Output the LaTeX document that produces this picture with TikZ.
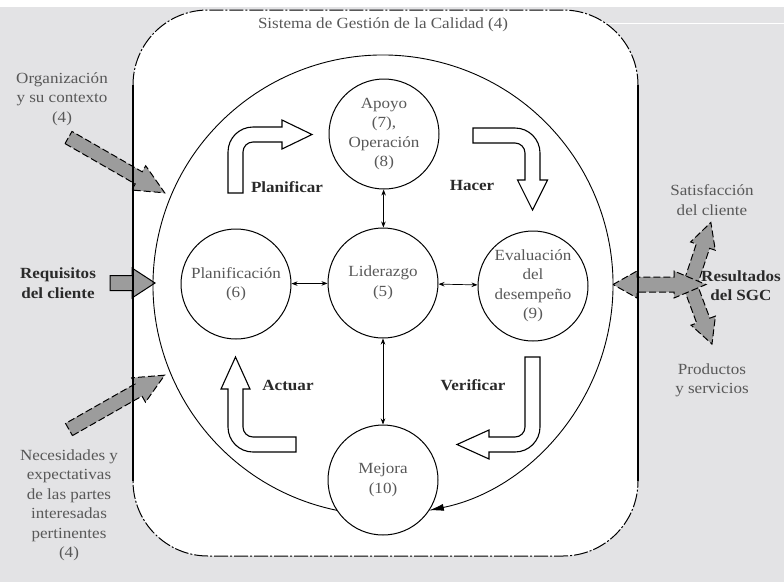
\documentclass[tikz,border=0pt]{standalone}
\usepackage{fontspec}
\setmainfont[FakeStretch=1.1]{Liberation Serif}
\usetikzlibrary{arrows.meta,calc}

\definecolor{pagegray}{HTML}{E3E3E5}
\definecolor{arrowgray}{HTML}{9C9C9C}
\definecolor{softtext}{HTML}{585858}
\definecolor{darktext}{HTML}{2A2A2A}

\newcommand{\labelfont}{\fontsize{15.5}{19.5}\selectfont}

% straight block arrow: style, tail point, angle, length, shaft half-width, head half-width, head length
\newcommand{\blockarrow}[7]{%
  \draw[#1,shift={#2},rotate=#3]
    (0,-#5) -- (#4-#7,-#5) -- (#4-#7,-#6) -- (#4,0) -- (#4-#7,#6) -- (#4-#7,#5) -- (0,#5) -- cycle;}

\tikzset{
  lbl/.style={font=\labelfont, text=softtext, align=center, inner sep=0pt},
  boldlbl/.style={font=\labelfont\bfseries, text=darktext, align=center, inner sep=0pt},
  stage/.style={circle, draw, line width=1pt, fill=white, minimum size=110pt,
    inner sep=0pt, align=center, font=\labelfont, text=softtext},
  link/.style={{Stealth[length=6pt,width=4.5pt]}-{Stealth[length=6pt,width=4.5pt]}, line width=0.7pt},
  cyclearc/.style={line width=0.9pt, -{Latex[length=15pt,width=7pt]}},
  bentarrow/.style={draw, fill=white, line width=1.1pt, line join=miter},
  inarrow/.style={draw, fill=arrowgray, line width=1pt, dash pattern=on 7pt off 3pt},
  solidarrow/.style={draw, fill=arrowgray, line width=1pt},
  boxline/.style={line width=1pt, dash pattern=on 14pt off 2pt on 2pt off 2pt},
}

\begin{document}
\begin{tikzpicture}[x=1pt,y=1pt]
  \useasboundingbox (0,0) rectangle (784,-582);
  % page background
  \fill[pagegray] (0,0) rectangle (784,-582);
  \fill[white] (0,0) rectangle (784,-7);
  \draw[white, line width=1pt] (604,-23) -- (784,-23);

  % quality management system frame (fill)
  \fill[white, rounded corners=75pt] (133,-10) rectangle (638,-556);

  % inputs and outputs
  \blockarrow{inarrow}{(68.5,-137.5)}{-29.9}{111}{7}{14}{30}
  \blockarrow{inarrow}{(69,-429.5)}{29.6}{110}{7}{14}{30}
  \blockarrow{solidarrow}{(110,-283)}{0}{45}{7.5}{15}{23}
  \blockarrow{inarrow}{(690,-285)}{71.6}{66}{7}{13}{25}
  \blockarrow{inarrow}{(690,-285)}{-69.6}{63}{7}{13}{25}
  \draw[inarrow] (613,-284.5) -- (637,-271) -- (637,-277) -- (674,-277) -- (674,-271)
    -- (706,-284.5) -- (674,-298) -- (674,-292) -- (637,-292) -- (637,-298) -- cycle;

  % frame outline
  \draw[boxline, rounded corners=75pt] (133,-10) rectangle (638,-556);
  \draw[line width=1.1pt] (133,-85) -- (133,-481);
  \draw[line width=1.1pt] (638,-85) -- (638,-481);

  \node[lbl] (title) at (383,-25) {Sistema de Gestión de la Calidad (4)};

  % stages of the cycle
  \coordinate (cyc) at (383,-285);
  \node[stage] (apo) at (384,-134) {Apoyo\\(7),\\Operación\\(8)};
  \node[stage] (pla) at (236,-284) {Planificación\\(6)};
  \node[stage] (lid) at (383,-283) {Liderazgo\\(5)};
  \node[stage] (eva) at (533,-286) {Evaluación\\del\\desempeño\\(9)};
  \node[stage] (mej) at (383,-480) {Mejora\\(10)};

  \draw[cyclearc] ($(cyc)+(258.5:230)$) arc[start angle=258.5, end angle=-78.5, radius=230];

  \draw[link] (lid) -- (apo);
  \draw[link] (lid) -- (pla);
  \draw[link] (lid) -- (eva);
  \draw[link] (lid) -- (mej);

  % PDCA bent arrows
  \draw[bentarrow] (228,-193) -- (228,-152) arc[start angle=180,end angle=90,radius=25]
    -- (282,-127) -- (282,-120) -- (312,-134.5) -- (282,-149) -- (282,-142) -- (253,-142)
    arc[start angle=90,end angle=180,radius=10] -- (243,-193) -- cycle;
  \draw[bentarrow] (473,-128) -- (515,-128) arc[start angle=90,end angle=0,radius=25]
    -- (540,-180) -- (547.5,-180) -- (532.5,-210) -- (517.5,-180) -- (525,-180) -- (525,-153)
    arc[start angle=0,end angle=90,radius=10] -- (473,-143) -- cycle;
  \draw[bentarrow] (540,-357) -- (540,-427) arc[start angle=0,end angle=-90,radius=25]
    -- (489,-452) -- (489,-459) -- (457,-444.5) -- (489,-430) -- (489,-437) -- (515,-437)
    arc[start angle=-90,end angle=0,radius=10] -- (525,-357) -- cycle;
  \draw[bentarrow] (296,-452) -- (253,-452) arc[start angle=-90,end angle=-180,radius=25]
    -- (228,-389) -- (221,-389) -- (235.5,-357) -- (250,-389) -- (243,-389) -- (243,-427)
    arc[start angle=180,end angle=270,radius=10] -- (296,-437) -- cycle;

  \node[boldlbl] (plan) at (287,-187) {Planificar};
  \node[boldlbl] (do) at (472,-185) {Hacer};
  \node[boldlbl] (act) at (288,-385) {Actuar};
  \node[boldlbl] (check) at (473,-385) {Verificar};

  % outside labels
  \node[lbl] (org) at (62,-99) {Organización\\y su contexto\\(4)};
  \node[boldlbl] (req) at (58,-283) {Requisitos\\del cliente};
  \node[lbl] (nec) at (69,-505.5) {Necesidades y\\expectativas\\de las partes\\interesadas\\pertinentes\\(4)};
  \node[lbl] (sat) at (712,-200) {Satisfacción\\del cliente};
  \node[boldlbl] (res) at (741,-285.5) {Resultados\\del SGC};
  \node[lbl] (pro) at (712,-380.5) {Productos\\y servicios};
\end{tikzpicture}
\end{document}
